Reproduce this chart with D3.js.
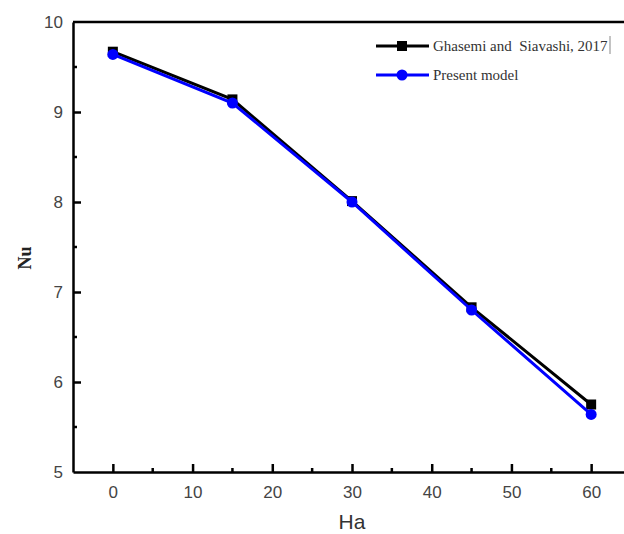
<!DOCTYPE html>
<html><head><meta charset="utf-8">
<script src="https://cdn.jsdelivr.net/npm/d3@7"></script>
<style>body{margin:0;background:#fff}svg{display:block}</style>
</head><body>
<script>
const ha = [0, 15, 30, 45, 60];
const ghasemi = [9.67, 9.14, 8.01, 6.83, 5.75];
const present = [9.64, 9.10, 8.00, 6.80, 5.64];
const xTicks = [0, 10, 20, 30, 40, 50, 60];
const yTicks = [5, 6, 7, 8, 9, 10];
const seriesNames = ["Ghasemi and  Siavashi, 2017", "Present model"];

const W = 624, H = 534;
const svg = d3.select("body").append("svg").attr("width", W).attr("height", H);
const x = d3.scaleLinear().domain([-5, 65]).range([73, 631]);
const y = d3.scaleLinear().domain([5, 10]).range([472, 22]);

// frame
svg.append("line").attr("x1", x(-5)).attr("x2", W + 5).attr("y1", y(10)).attr("y2", y(10))
  .attr("stroke", "#000").attr("stroke-width", 2.5);

// axes
const xAxis = d3.axisBottom(x).tickValues(xTicks).tickFormat(d3.format("d")).tickSizeInner(-8).tickSizeOuter(0).tickPadding(14);
const gx = svg.append("g").attr("transform", `translate(0,${y(5)})`).call(xAxis);
const yAxis = d3.axisLeft(y).tickValues(yTicks).tickFormat(d3.format("d")).tickSizeInner(-8).tickSizeOuter(0).tickPadding(10);
const gy = svg.append("g").attr("transform", `translate(${x(-5)},0)`).call(yAxis);
[gx, gy].forEach(g => {
  g.select(".domain").attr("stroke", "#000").attr("stroke-width", 2.5);
  g.selectAll(".tick line").attr("stroke", "#000").attr("stroke-width", 2.5);
  g.selectAll(".tick text").attr("font-family", "Liberation Sans, Arial, sans-serif")
    .attr("font-size", 17).attr("fill", "#444");
});
gy.selectAll(".tick").filter(d => d === 5 || d === 10).select("line").remove();
// minor ticks
const xMinor = d3.range(5, 60, 10);
svg.append("g").selectAll("line").data(xMinor).join("line")
  .attr("x1", d => x(d)).attr("x2", d => x(d)).attr("y1", y(5)).attr("y2", y(5) - 4)
  .attr("stroke", "#000").attr("stroke-width", 2.5);
const yMinor = [5.5, 6.5, 7.5, 8.5, 9.5];
svg.append("g").selectAll("line").data(yMinor).join("line")
  .attr("x1", x(-5)).attr("x2", x(-5) + 4).attr("y1", d => y(d)).attr("y2", d => y(d))
  .attr("stroke", "#000").attr("stroke-width", 2.5);

// axis titles
svg.append("text").attr("x", 352).attr("y", 529).attr("text-anchor", "middle")
  .attr("font-family", "Liberation Sans, Arial, sans-serif").attr("font-size", 21).attr("fill", "#333").text("Ha");
svg.append("text").attr("transform", "translate(31,258) rotate(-90)").attr("text-anchor", "middle")
  .attr("font-family", "Liberation Serif, Times New Roman, serif").attr("font-weight", "bold")
  .attr("font-size", 18).attr("fill", "#222").text("Nu");

// lines
const line = d3.line().x(d => x(d[0])).y(d => y(d[1]));
const dG = ha.map((h, i) => [h, ghasemi[i]]);
const dP = ha.map((h, i) => [h, present[i]]);
svg.append("path").datum(dG).attr("d", line).attr("fill", "none").attr("stroke", "#000").attr("stroke-width", 3);
svg.append("g").selectAll("rect").data(dG).join("rect")
  .attr("x", d => x(d[0]) - 5).attr("y", d => y(d[1]) - 5).attr("width", 10).attr("height", 10).attr("fill", "#000");
svg.append("path").datum(dP).attr("d", line).attr("fill", "none").attr("stroke", "#0000ff").attr("stroke-width", 3);
svg.append("g").selectAll("circle").data(dP).join("circle")
  .attr("cx", d => x(d[0])).attr("cy", d => y(d[1])).attr("r", 5.5).attr("fill", "#0000ff");

// legend
const lg = svg.append("g");
const ly = [46, 75];
lg.append("line").attr("x1", 376).attr("x2", 429).attr("y1", ly[0]).attr("y2", ly[0]).attr("stroke", "#000").attr("stroke-width", 3);
lg.append("rect").attr("x", 397).attr("y", ly[0] - 5).attr("width", 10).attr("height", 10).attr("fill", "#000");
lg.append("line").attr("x1", 376).attr("x2", 429).attr("y1", ly[1]).attr("y2", ly[1]).attr("stroke", "#0000ff").attr("stroke-width", 3);
lg.append("circle").attr("cx", 402).attr("cy", ly[1]).attr("r", 5.5).attr("fill", "#0000ff");
seriesNames.forEach((n, i) => {
  lg.append("text").attr("x", 433).attr("y", ly[i] + 5).attr("xml:space", "preserve")
    .attr("font-family", "Liberation Serif, Times New Roman, serif").attr("font-size", 15).attr("fill", "#333").text(n);
});
lg.append("line").attr("x1", 610).attr("x2", 610).attr("y1", ly[0] - 10).attr("y2", ly[0] + 8).attr("stroke", "#888").attr("stroke-width", 1);
</script>
</body></html>
